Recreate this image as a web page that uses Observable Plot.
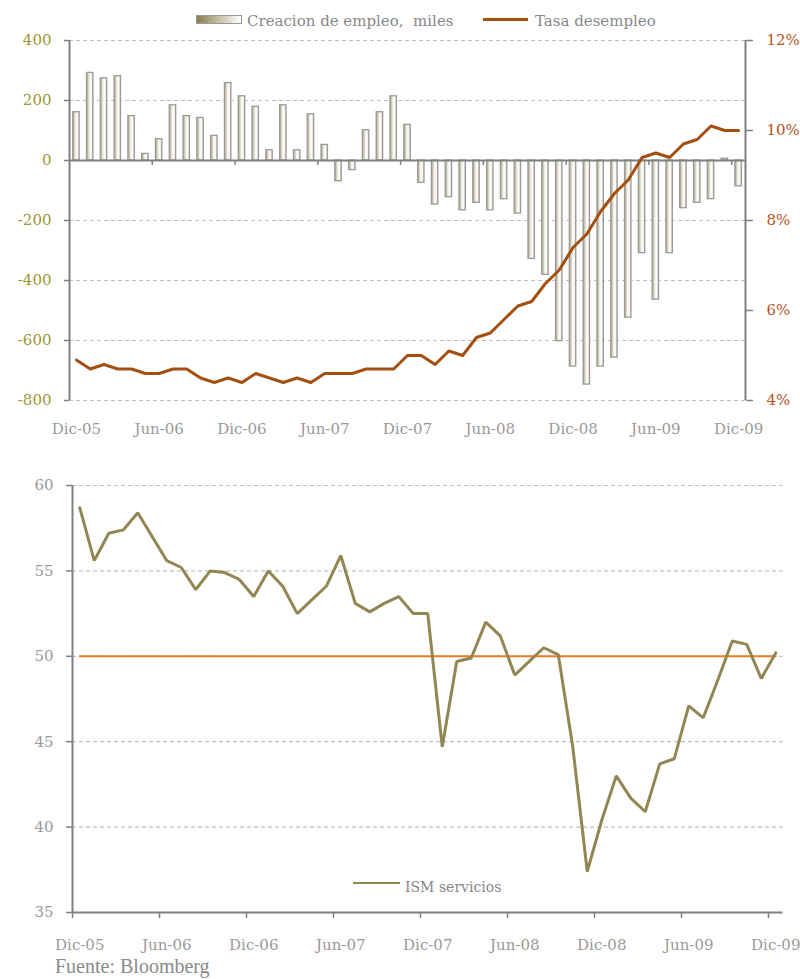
<!DOCTYPE html>
<html><head><meta charset="utf-8">
<script src="https://cdn.jsdelivr.net/npm/d3@7"></script>
<script src="https://cdn.jsdelivr.net/npm/@observablehq/plot@0.6"></script>
<style>
body{margin:0;background:#fff;}
#wrap{position:relative;width:800px;height:979px;overflow:hidden;font-family:"DejaVu Serif",serif;background:#fff;}
.abs{position:absolute;white-space:nowrap;}
</style></head><body>
<div id="wrap">
  <div id="top" class="abs" style="left:0;top:0"></div>
  <div id="bot" class="abs" style="left:0;top:460px"></div>
  <div class="abs" style="left:196px;top:15px;width:44px;height:7px;border:1.5px solid #9a9a9a;background:linear-gradient(to right,#8a7e50,#ffffff)"></div>
  <div class="abs" style="left:247px;top:11px;font-size:15px;line-height:20px;color:#888">Creacion de empleo,&nbsp; miles</div>
  <div class="abs" style="left:483px;top:18px;width:45px;height:3px;background:#a24f10"></div>
  <div class="abs" style="left:535px;top:11px;font-size:15px;line-height:20px;color:#888">Tasa desempleo</div>
  <div class="abs" style="left:353px;top:881.5px;width:47px;height:2.5px;background:#928752"></div>
  <div class="abs" style="left:405px;top:878px;font-size:14px;line-height:18px;color:#888">ISM servicios</div>
  <div class="abs" style="left:55px;top:955px;font-family:'Liberation Serif',serif;font-size:20px;line-height:22px;color:#8a8a8a">Fuente: Bloomberg</div>
</div>
<script>
// Tick labels (every 6 months, Dic-05 .. Dic-09)
const tickLabels = ["Dic-05","Jun-06","Dic-06","Jun-07","Dic-07","Jun-08","Dic-08","Jun-09","Dic-09"];
// Creacion de empleo, miles (Dic-05 .. Dic-09, monthly)
const empleo = [161, 292, 274, 281, 148, 22, 71, 184, 148, 142, 82, 258,
                214, 179, 34, 184, 34, 154, 52, -69, -32, 101, 161, 214,
                119, -74, -147, -122, -166, -141, -166, -129, -177, -328, -381, -602,
                -687, -747, -687, -657, -524, -309, -464, -309, -159, -141, -129, 6, -86];
// Tasa desempleo, %
const desempleo = [4.9, 4.7, 4.8, 4.7, 4.7, 4.6, 4.6, 4.7, 4.7, 4.5, 4.4, 4.5,
                   4.4, 4.6, 4.5, 4.4, 4.5, 4.4, 4.6, 4.6, 4.6, 4.7, 4.7, 4.7,
                   5.0, 5.0, 4.8, 5.1, 5.0, 5.4, 5.5, 5.8, 6.1, 6.2, 6.6, 6.9,
                   7.4, 7.7, 8.2, 8.6, 8.9, 9.4, 9.5, 9.4, 9.7, 9.8, 10.1, 10.0, 10.0];
// ISM servicios
const ism = [58.7, 55.6, 57.2, 57.4, 58.4, 57.0, 55.6, 55.2, 53.9, 55.0, 54.9, 54.5,
             53.5, 55.0, 54.1, 52.5, 53.3, 54.1, 55.9, 53.1, 52.6, 53.1, 53.5, 52.5,
             52.5, 44.7, 49.7, 49.9, 52.0, 51.2, 48.9, 49.7, 50.5, 50.1, 44.7, 37.4,
             40.4, 43.0, 41.7, 40.9, 43.7, 44.0, 47.1, 46.4, 48.6, 50.9, 50.7, 48.7, 50.2];
const empleoTicks = [400, 200, 0, -200, -400, -600, -800];
const desempleoTicks = [4, 6, 8, 10, 12];
const ismTicks = [35, 40, 45, 50, 55, 60];
const ismUmbral = 50;

const n = empleo.length;
const rows = empleo.map((v, i) => ({i, empleo: v, desempleo: desempleo[i], ism: ism[i]}));
const labelIdx = tickLabels.map((_, k) => k * 6);
const bounds = labelIdx.slice(1).map(i => i - 0.5);
// map % onto left scale: 4% -> -800, 12% -> 400
const toLeft = u => -800 + (u - 4) * 150;
const fromLeft = v => (v + 800) / 150 + 4;

const gridGray = "#c0c0c0";
const axisGray = "#808080";
const labelGray = "#999999";
const baseStyle = {fontFamily: "DejaVu Serif", fontSize: "15px", background: "transparent", overflow: "visible"};

const topPlot = Plot.plot({
  width: 800, height: 450, marginTop: 40, marginBottom: 50, marginLeft: 69, marginRight: 55,
  style: baseStyle,
  x: {type: "linear", domain: [-0.5, n - 0.5], label: null},
  y: {domain: [-800, 400], label: null},
  marks: [
    Plot.gridY({ticks: empleoTicks, stroke: gridGray, strokeOpacity: 1, strokeDasharray: "4,3", strokeWidth: 1.2}),
    Plot.rect(rows, {x1: d => d.i - 0.5, x2: d => d.i + 0.5, y1: () => 0, y2: "empleo",
      insetLeft: 3.7, insetRight: 3.7, fill: "url(#barGrad)", stroke: "#9a9a9a", strokeWidth: 1.3}),
    Plot.ruleY([0], {stroke: axisGray, strokeWidth: 2}),
    Plot.ruleX([-0.5, n - 0.5], {stroke: axisGray, strokeWidth: 2}),
    Plot.ruleX(bounds, {x: d => d, y1: () => 0, y2: () => 0, insetBottom: -5, stroke: axisGray, strokeWidth: 1.5}),
    Plot.line(rows, {x: "i", y: d => toLeft(d.desempleo), stroke: "#a24f10", strokeWidth: 3}),
    Plot.axisY({ticks: empleoTicks, tickSize: 5, tickFormat: () => "", stroke: axisGray, strokeWidth: 1.5, label: null}),
    Plot.axisY({ticks: empleoTicks, tickSize: 0, tickPadding: 18, tickFormat: d => String(d), fill: "#9c9632", label: null}),
    Plot.axisY({anchor: "right", ticks: desempleoTicks.map(toLeft), tickSize: 7, tickFormat: () => "", stroke: axisGray, strokeWidth: 1.5, label: null}),
    Plot.axisY({anchor: "right", ticks: desempleoTicks.map(toLeft), tickSize: 0, tickPadding: 21,
      tickFormat: v => Math.round(fromLeft(v)) + "%", fill: "#b5541c", label: null}),
    Plot.axisX({ticks: labelIdx, tickSize: 0, tickPadding: 23, tickFormat: i => tickLabels[i / 6], fill: labelGray, label: null})
  ]
});
topPlot.insertAdjacentHTML("afterbegin",
  '<defs><linearGradient id="barGrad" x1="0" x2="1" y1="0" y2="0">' +
  '<stop offset="0" stop-color="#a89f7e"/><stop offset="0.45" stop-color="#f3f1e8"/>' +
  '<stop offset="0.7" stop-color="#ffffff"/><stop offset="1" stop-color="#d6d1bf"/></linearGradient></defs>');
document.getElementById("top").appendChild(topPlot);

const botPlot = Plot.plot({
  width: 800, height: 490, marginTop: 25, marginBottom: 38, marginLeft: 72, marginRight: 17.5,
  style: baseStyle,
  x: {type: "linear", domain: [-0.5, n - 0.5], label: null},
  y: {domain: [35, 60], label: null},
  marks: [
    Plot.gridY({ticks: ismTicks.slice(1), stroke: gridGray, strokeOpacity: 1, strokeDasharray: "4,3", strokeWidth: 1.2}),
    Plot.line(rows, {x: "i", y: () => ismUmbral, stroke: "#f07a22", strokeWidth: 2}),
    Plot.line(rows, {x: "i", y: "ism", stroke: "#928752", strokeWidth: 3, strokeLinejoin: "miter"}),
    Plot.ruleX([-0.5], {stroke: axisGray, strokeWidth: 2}),
    Plot.ruleY([35], {stroke: axisGray, strokeWidth: 2}),
    Plot.axisY({ticks: ismTicks, tickSize: 6, tickFormat: () => "", stroke: axisGray, strokeWidth: 1.5, label: null}),
    Plot.axisY({ticks: ismTicks, tickSize: 0, tickPadding: 19, tickFormat: d => String(d), fill: labelGray, label: null}),
    Plot.axisX({ticks: [-0.5, ...bounds], tickSize: 6, tickFormat: () => "", stroke: axisGray, strokeWidth: 1.5, label: null}),
    Plot.axisX({ticks: labelIdx, tickSize: 0, tickPadding: 27, tickFormat: i => tickLabels[i / 6], fill: labelGray, label: null})
  ]
});
document.getElementById("bot").appendChild(botPlot);
</script>
</body></html>
